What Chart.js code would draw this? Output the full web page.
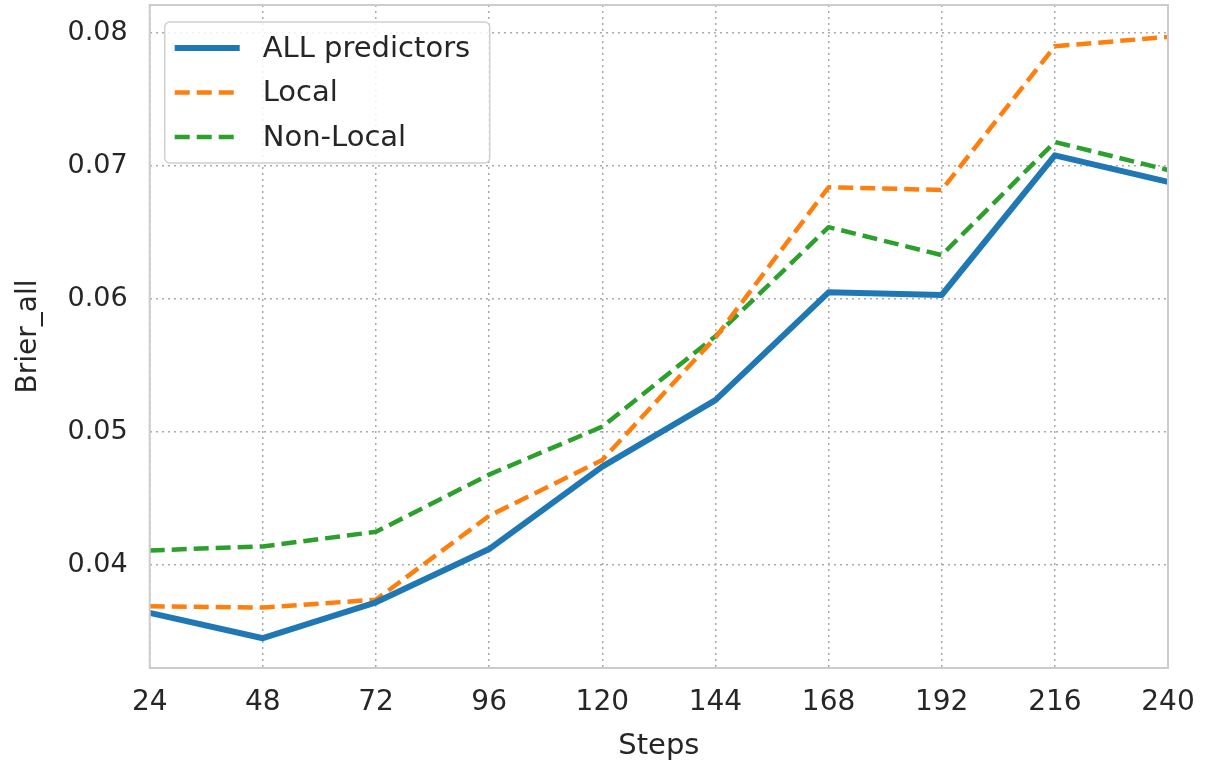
<!DOCTYPE html>
<html>
<head>
<meta charset="utf-8">
<script src="https://cdn.jsdelivr.net/npm/chart.js@4.4.1/dist/chart.umd.min.js"></script>
<style>
  html, body { margin: 0; padding: 0; background: #fff; }
  #wrap { width: 1222px; height: 761px; }
</style>
</head>
<body>
<div id="wrap"><canvas id="c"></canvas></div>
<script>
// Brier score by forecast step, three predictor sets.
const steps = ['24', '48', '72', '96', '120', '144', '168', '192', '216', '240'];
const allPredictors = [0.0364, 0.0345, 0.0372, 0.0412, 0.0474, 0.0524, 0.0605, 0.0603, 0.0708, 0.0688];
const local = [0.0369, 0.0368, 0.0374, 0.0437, 0.0479, 0.0571, 0.0684, 0.0682, 0.0790, 0.0797];
const nonLocal = [0.0411, 0.0414, 0.0425, 0.0468, 0.0504, 0.0572, 0.0654, 0.0633, 0.0718, 0.0697];
const yTicks = [0.04, 0.05, 0.06, 0.07, 0.08];

const FONT = 'DejaVu Sans';
const TEXT = '#262626';

// frame around the plot area (matplotlib spines)
const frame = {
  id: 'frame',
  afterDatasetsDraw(chart) {
    const { ctx, chartArea: a } = chart;
    ctx.save();
    ctx.strokeStyle = '#cccccc';
    ctx.lineWidth = 2;
    ctx.strokeRect(a.left, a.top, a.right - a.left, a.bottom - a.top);
    ctx.restore();
  }
};

// legend drawn inside the axes, upper left
const innerLegend = {
  id: 'innerLegend',
  afterDraw(chart) {
    const { ctx, chartArea: a } = chart;
    const x = a.left + 15, y = a.top + 17, w = 325, h = 141;
    ctx.save();
    ctx.fillStyle = 'rgba(255,255,255,0.85)';
    ctx.strokeStyle = '#d0d0d0';
    ctx.lineWidth = 1.5;
    ctx.beginPath();
    ctx.roundRect(x, y, w, h, 5);
    ctx.fill();
    ctx.stroke();
    ctx.font = '29px ' + FONT;
    ctx.textBaseline = 'middle';
    chart.data.datasets.forEach((ds, i) => {
      const ry = y + 26 + i * 44.5;
      ctx.strokeStyle = ds.borderColor;
      ctx.lineWidth = ds.borderWidth;
      ctx.setLineDash(ds.borderDash || []);
      ctx.beginPath();
      ctx.moveTo(x + 10, ry);
      ctx.lineTo(x + 75, ry);
      ctx.stroke();
      ctx.setLineDash([]);
      ctx.fillStyle = TEXT;
      ctx.fillText(ds.label, x + 98, ry + 1);
    });
    ctx.restore();
  }
};

new Chart(document.getElementById('c'), {
  type: 'line',
  data: {
    labels: steps,
    datasets: [
      { label: 'ALL predictors', data: allPredictors, borderColor: '#1f77b4', borderWidth: 6 },
      { label: 'Local', data: local, borderColor: '#ff7f0e', borderWidth: 4.5, borderDash: [15, 7] },
      { label: 'Non-Local', data: nonLocal, borderColor: '#2ca02c', borderWidth: 4.5, borderDash: [15, 7] }
    ]
  },
  options: {
    responsive: true,
    maintainAspectRatio: false,
    animation: false,
    layout: { padding: { left: 8, right: 54, top: 5, bottom: 0 } },
    elements: { point: { radius: 0 }, line: { tension: 0, borderJoinStyle: 'round' } },
    plugins: { legend: { display: false }, tooltip: { enabled: false } },
    scales: {
      x: {
        offset: false,
        afterFit(axis) { axis.height = 93; },
        grid: { color: '#aaaaaa', lineWidth: 1.5, drawTicks: false },
        border: { display: false, dash: [2, 4] },
        ticks: { color: TEXT, font: { family: FONT, size: 28, lineHeight: 1 }, padding: 21, maxRotation: 0 },
        title: { display: true, text: 'Steps', color: TEXT, font: { family: FONT, size: 29, lineHeight: 1 }, padding: { top: 13, bottom: 0 } }
      },
      y: {
        min: 0.03226,
        max: 0.0821,
        afterBuildTicks(axis) { axis.ticks = yTicks.map(v => ({ value: v })); },
        afterFit(axis) { axis.paddingTop = 0; axis.paddingBottom = 0; },
        grid: { color: '#aaaaaa', lineWidth: 1.5, drawTicks: false },
        border: { display: false, dash: [2, 4] },
        ticks: {
          color: TEXT, font: { family: FONT, size: 27 }, padding: 22,
          callback: v => v.toFixed(2)
        },
        title: { display: true, text: 'Brier_all', color: TEXT, font: { family: FONT, size: 28 }, padding: { top: 4, bottom: 0 } }
      }
    }
  },
  plugins: [frame, innerLegend]
});
</script>
</body>
</html>
